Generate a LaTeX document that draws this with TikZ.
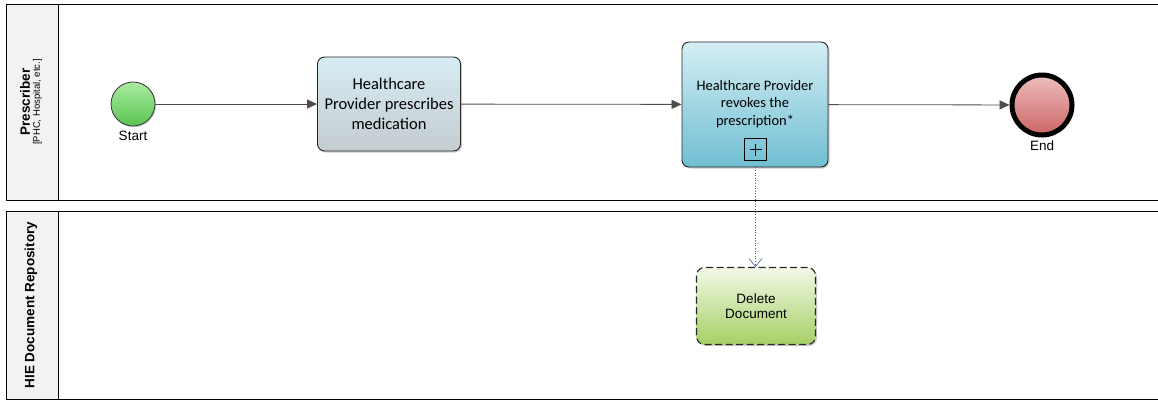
\documentclass[tikz,border=0pt]{standalone}
\usepackage{fontspec}
\setmainfont{Liberation Sans}
\newfontfamily\calib{Carlito}
\usetikzlibrary{arrows.meta,shadows}
\definecolor{lanehead}{HTML}{F2F2F2}
\definecolor{flowgray}{HTML}{4D4D4D}
\definecolor{linkblue}{HTML}{3A5FA0}
\begin{document}
\begin{tikzpicture}[x=1pt,y=-1pt,
  lanebox/.style={draw=black,line width=0.8pt},
  headbox/.style={draw=black,line width=0.8pt,fill=lanehead},
  taskbox/.style={draw=black!85,line width=0.9pt,rounded corners=7pt,align=center,
    drop shadow={shadow xshift=1.5pt,shadow yshift=-1.5pt,fill=black!40}},
  flow/.style={draw=flowgray,line width=0.8pt,-{Triangle[length=10pt,width=9pt]}},
  lbl/.style={font=\fontsize{13.5}{16}\selectfont,inner sep=0pt}
]
\useasboundingbox (0,0) rectangle (1158,400);
% lanes
\draw[lanebox] (6,4) rectangle (1162,200);
\draw[headbox] (6,4) rectangle (58,200);
\draw[lanebox] (6,211) rectangle (1162,399);
\draw[headbox] (6,211) rectangle (58,399);
\node[rotate=90,align=center,inner sep=0pt] (h1) at (31,102)
  {{\fontsize{13.5}{14}\selectfont\bfseries Prescriber}\\[-2pt]{\fontsize{9.5}{10}\selectfont [PHC, Hospital, etc.]}};
\node[rotate=90,inner sep=0pt,font=\fontsize{13.5}{15}\selectfont\bfseries] (h2) at (31,305) {HIE Document Repository};
% start
\node[circle,draw=black!80,line width=0.8pt,minimum size=44pt,inner sep=0pt,
  top color={rgb,255:red,170;green,236;blue,160},bottom color={rgb,255:red,90;green,196;blue,80},
  drop shadow={shadow xshift=1.2pt,shadow yshift=-1.2pt,fill=black!35}] (start) at (133,104) {};
\node[lbl] (startl) at (133,136) {Start};
% task 1
\node[taskbox,minimum width=143pt,minimum height=94pt,
  top color={rgb,255:red,214;green,236;blue,243},bottom color={rgb,255:red,196;green,204;blue,208},
  font=\calib\fontsize{16.5}{20}\selectfont] (t1) at (389,104)
  {Healthcare\\Provider prescribes\\medication};
% task 2
\node[taskbox,minimum width=146pt,minimum height=125pt,
  top color={rgb,255:red,212;green,238;blue,244},bottom color={rgb,255:red,112;green,190;blue,210}] (t2) at (755,104.5) {};
\node[align=center,font=\calib\fontsize{14.5}{17.5}\selectfont,inner sep=0pt] (t2l) at (755,104) {Healthcare Provider\\revokes the\\prescription*};
\node[draw=black,line width=1pt,minimum size=22pt,inner sep=0pt,fill=none] (plus) at (755.5,149.5) {};
\draw[line width=1pt] ([xshift=-6pt]plus.center) -- ([xshift=6pt]plus.center)
  ([yshift=-6pt]plus.center) -- ([yshift=6pt]plus.center);
% end
\node[circle,draw=black,line width=5pt,minimum size=60pt,inner sep=0pt,
  top color={rgb,255:red,236;green,190;blue,190},bottom color={rgb,255:red,205;green,100;blue,100},
  drop shadow={shadow xshift=1.2pt,shadow yshift=-1.2pt,fill=black!35}] (end) at (1042,105) {};
\node[lbl] (endl) at (1042,146) {End};
% delete document
\node[draw=black!85,line width=1.1pt,dashed,dash pattern=on 7pt off 3.5pt,rounded corners=8pt,align=center,
  minimum width=119pt,minimum height=77pt,
  top color={rgb,255:red,242;green,249;blue,232},bottom color={rgb,255:red,165;green,207;blue,100},
  font=\fontsize{13.5}{15.5}\selectfont,
  drop shadow={shadow xshift=1.5pt,shadow yshift=-1.5pt,fill=black!40}] (del) at (756,306)
  {Delete\\Document};
% flows
\draw[flow] (start) -- (t1);
\draw[flow] (t1) -- (t2);
\draw[flow] (t2) -- (end);
\draw[draw=linkblue,line width=0.6pt,dotted,-{Straight Barb[length=8pt,width=13pt,line width=0.6pt]}]
  (t2.south -| plus.south) -- (del.north -| plus.south);
\end{tikzpicture}
\end{document}
